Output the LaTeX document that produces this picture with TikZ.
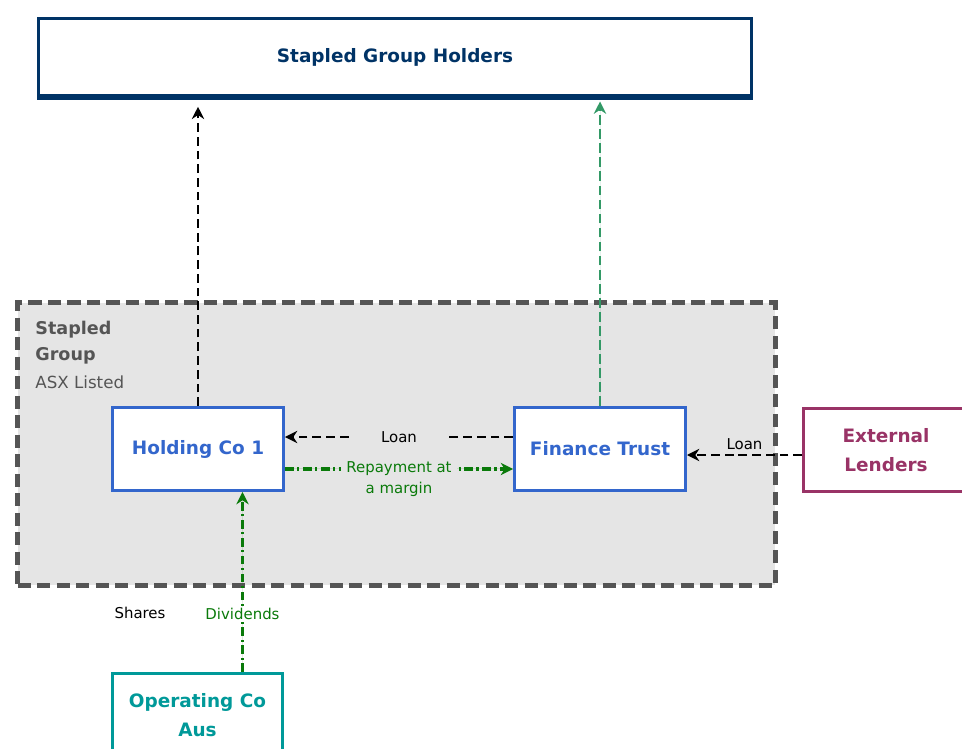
\documentclass[tikz,border=0pt]{standalone}
\usepackage{fontspec}
\setmainfont{DejaVu Sans}
\usepackage{tikz}
\usetikzlibrary{arrows.meta, positioning, backgrounds, calc}
\definecolor{navy}{HTML}{003366}
\definecolor{boxblue}{HTML}{3366CC}
\definecolor{maroon}{HTML}{993366}
\definecolor{teal}{HTML}{009999}
\definecolor{paygreen}{HTML}{0A7A0A}
\definecolor{seagreen}{HTML}{339966}
\definecolor{groupgray}{HTML}{555555}
\tikzset{
  entity/.style={rectangle, draw, line width=1.7pt, fill=white, minimum width=3.42cm, minimum height=1.66cm, text centered, align=center, font=\bfseries\fontsize{10.5}{16.5}\selectfont}, % Define the entity style
  group/.style={rectangle, draw=groupgray, line width=2.5pt, dash pattern=on 7.5pt off 3.6pt, fill=black!10, minimum width=15.16cm, minimum height=5.66cm},
  flowlabel/.style={font=\fontsize{8.5}{12}\selectfont, align=center, inner sep=1pt},
  loanline/.style={draw, line width=1.6pt, dash pattern=on 5pt off 2.8pt, -{Stealth[length=7pt,width=7pt]}},
  payline/.style={draw=paygreen, line width=2.1pt, dash pattern=on 5pt off 2pt on 1.2pt off 2pt, -{Stealth[length=7pt,width=7pt]}}
}

\begin{document}
\begin{tikzpicture}[x=0.02cm, y=-0.02cm, >=Stealth]
    \useasboundingbox (0,0) rectangle (962,749);

    % Nodes
    \node [entity, draw=navy, text=navy, minimum width=14.26cm, minimum height=1.56cm] (holders) at (395,57.5) {Stapled Group Holders};
    \node [entity, draw=boxblue, text=boxblue] (holding) at (198,449) {Holding Co 1};
    \node [entity, draw=boxblue, text=boxblue] (trust) at (600,449) {Finance Trust};
    \node [entity, draw=maroon, text=maroon, minimum width=3.3cm] (lenders) at (886,450) {External\\Lenders};
    \node [entity, draw=teal, text=teal] (operating) at (197.5,715) {Operating Co\\Aus};
    \node [anchor=north west, inner sep=0pt, align=left, text=groupgray, font=\bfseries\fontsize{10}{14.7}\selectfont] (groupname) at (35,321) {Stapled\\Group};
    \node [anchor=north west, inner sep=0pt, text=groupgray, font=\fontsize{9.5}{12}\selectfont] (listed) at (35,375) {ASX Listed};
    \node [flowlabel] (shares) at (140,613) {Shares};
    \draw [navy, line width=3pt] ([yshift=0.02cm]holders.south west) -- ([yshift=0.02cm]holders.south east);

    % Edges
    \draw [loanline, shorten >=5pt] (holding.north) -- (holding.north |- holders.south);
    \draw [loanline, draw=seagreen, fill=seagreen, dash pattern=on 5.5pt off 2.5pt, shorten >=2pt] (trust.north) -- (trust.north |- holders.south);
    \draw [loanline] ([yshift=0.24cm]trust.west) -- node[flowlabel, fill=black!10, inner xsep=18pt] (loan) {Loan} ([yshift=0.24cm]holding.east);
    \draw [payline, fill=paygreen] ([yshift=-0.4cm]holding.east) -- node[flowlabel, text=paygreen, fill=black!10, inner xsep=3pt, yshift=-0.2cm] (repay) {Repayment at\\a margin} ([yshift=-0.4cm]trust.west);
    \draw [loanline] ([yshift=-0.1cm]lenders.west) -- node[flowlabel, above=1pt] (extloan) {Loan} ([yshift=-0.1cm]lenders.west -| trust.east);
    \draw [payline, fill=paygreen] ([xshift=0.9cm]operating.north) -- node[flowlabel, text=paygreen, fill=white, pos=0.32] (dividends) {Dividends} ([xshift=0.9cm]operating.north |- holding.south);

    % Background
    \begin{scope}[on background layer]
      \node [group] (stapled) at (396.5,444) {};
    \end{scope}

\end{tikzpicture}
\end{document}
